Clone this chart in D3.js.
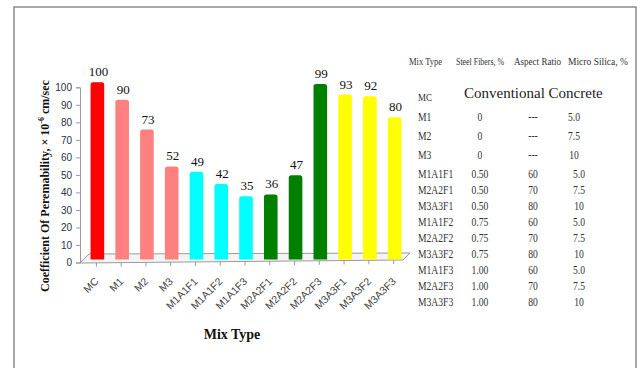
<!DOCTYPE html>
<html>
<head>
<meta charset="utf-8">
<script src="https://cdn.jsdelivr.net/npm/d3@7"></script>
<style>
  html, body { margin: 0; padding: 0; background: #fff; }
  svg { display: block; }
</style>
</head>
<body>
<svg id="chart" width="640" height="368"></svg>
<script>
// Coefficient of permeability per mix type
const categories = ["MC", "M1", "M2", "M3",
  "M1A1F1", "M1A1F2", "M1A1F3",
  "M2A2F1", "M2A2F2", "M2A2F3",
  "M3A3F1", "M3A3F2", "M3A3F3"];
const permeability = [100, 90, 73, 52, 49, 42, 35, 36, 47, 99, 93, 92, 80];
const groups = ["MC", "M", "M", "M", "A1", "A1", "A1", "A2", "A2", "A2", "A3", "A3", "A3"];
const groupColors = { MC: "#ff0000", M: "#ff8080", A1: "#00ffff", A2: "#007f00", A3: "#ffff00" };
const yTicks = [0, 10, 20, 30, 40, 50, 60, 70, 80, 90, 100];

// Mix design table
const tableHeaders = ["Mix Type", "Steel Fibers, %", "Aspect Ratio", "Micro Silica, %"];
const plainMixes = ["M1", "M2", "M3"];
const plainFibers = ["0", "0", "0"];
const plainRatios = ["---", "---", "---"];
const plainSilica = ["5.0", "7.5", "10"];
const fiberMixes = ["M1A1F1", "M2A2F1", "M3A3F1", "M1A1F2", "M2A2F2", "M3A3F2", "M1A1F3", "M2A2F3", "M3A3F3"];
const fiberContents = ["0.50", "0.50", "0.50", "0.75", "0.75", "0.75", "1.00", "1.00", "1.00"];
const fiberRatios = ["60", "70", "80", "60", "70", "80", "60", "70", "80"];
const fiberSilica = ["5.0", "7.5", "10", "5.0", "7.5", "10", "5.0", "7.5", "10"];

const svg = d3.select("#chart");
const serif = "'Liberation Serif', 'Times New Roman', serif";
const sans = "'Liberation Sans', Arial, sans-serif";

// outer frame
svg.append("rect")
  .attr("x", 14).attr("y", 7).attr("width", 622).attr("height", 420)
  .attr("fill", "none").attr("stroke", "#8a8a8a").attr("stroke-width", 1.5);

const x = d3.scaleBand().domain(categories).range([84, 406]).padding(0);
const y = d3.scaleLinear().domain([0, 100]).range([262.5, 87.3]);
const barW = x.bandwidth() * 0.55;
const depth = { dx: 1, dy: -5 };   // bars sit a little back from the front plane
const cx = c => x(c) + x.bandwidth() / 2;

// floor of the plot
svg.append("path")
  .attr("d", "M80,263 L403,260 L410,253 L89,254 Z")
  .attr("fill", "#f4f4f4").attr("stroke", "#9a9a9a").attr("stroke-width", 1);

// y axis
const yAxis = svg.append("g").attr("transform", "translate(80,0)")
  .call(d3.axisLeft(y).tickValues(yTicks).tickSize(4).tickPadding(4));
yAxis.select(".domain").attr("stroke", "#9a9a9a");
yAxis.selectAll(".tick line").attr("stroke", "#9a9a9a");
yAxis.selectAll(".tick text")
  .attr("font-family", sans).attr("font-size", 10).attr("fill", "#2b3340");

// x category ticks
svg.append("g").selectAll("line").data(categories).join("line")
  .attr("x1", c => cx(c)).attr("x2", c => cx(c))
  .attr("y1", c => 263 - 3 * (cx(c) - 80) / 323).attr("y2", c => 267 - 3 * (cx(c) - 80) / 323)
  .attr("stroke", "#9a9a9a");

// bars with rounded tops
function barPath(c, v) {
  const x0 = cx(c) - barW / 2 + depth.dx, x1 = x0 + barW;
  const top = y(v) + depth.dy, bottom = y(0) - 3, r = 2.5;
  return `M${x0},${bottom} L${x0},${top + r} Q${x0},${top} ${x0 + r},${top} L${x1 - r},${top} Q${x1},${top} ${x1},${top + r} L${x1},${bottom} Z`;
}
svg.append("g").selectAll("path").data(categories).join("path")
  .attr("d", (c, i) => barPath(c, permeability[i]))
  .attr("fill", (c, i) => groupColors[groups[i]]);

// value labels
svg.append("g").selectAll("text").data(categories).join("text")
  .attr("x", c => cx(c) + 2)
  .attr("y", (c, i) => y(permeability[i]) + depth.dy - 6)
  .attr("text-anchor", "middle")
  .attr("font-family", serif).attr("font-size", 13).attr("fill", "#111")
  .text((c, i) => permeability[i]);

// rotated category labels
svg.append("g").selectAll("text").data(categories).join("text")
  .attr("transform", c => `translate(${cx(c) + 3},${282}) rotate(-45)`)
  .attr("text-anchor", "end")
  .attr("font-family", sans).attr("font-size", 10.5).attr("fill", "#444")
  .text(c => c);

// axis titles
svg.append("text")
  .attr("x", 232).attr("y", 339).attr("text-anchor", "middle")
  .attr("font-family", serif).attr("font-size", 14).attr("font-weight", "bold").attr("fill", "#111")
  .text("Mix Type");

const yTitle = svg.append("text")
  .attr("transform", "translate(49,186) rotate(-90)")
  .attr("text-anchor", "middle")
  .attr("font-family", serif).attr("font-size", 12).attr("font-weight", "bold").attr("fill", "#111");
yTitle.append("tspan").text("Coefficient Of Peremability, × 10");
yTitle.append("tspan").attr("dy", -5).attr("font-size", 8).text("-6");
yTitle.append("tspan").attr("dy", 5).text(" cm/sec");

// mix design table
const tbl = svg.append("g").attr("font-family", serif).attr("fill", "#333");
const headerX = [409, 456, 514, 568];
const headerW = [33, 48, 47, 60];
tbl.selectAll("text.hdr").data(tableHeaders).join("text")
  .attr("class", "hdr")
  .attr("x", (d, i) => headerX[i]).attr("y", 65)
  .attr("font-size", 10)
  .attr("textLength", (d, i) => headerW[i]).attr("lengthAdjust", "spacingAndGlyphs")
  .text(d => d);

tbl.append("text").attr("x", 418).attr("y", 101)
  .attr("font-size", 11).attr("transform", "translate(418,0) scale(0.82,1) translate(-418,0)")
  .text("MC");
tbl.append("text").attr("x", 464).attr("y", 98)
  .attr("font-size", 15).attr("fill", "#222")
  .text("Conventional Concrete");

function drawRows(mixes, cols, yRange, silicaX) {
  const ry = d3.scalePoint().domain(mixes).range(yRange);
  const colX = [418, 480, 533, silicaX];
  const sq = (px, py) => `translate(${px},${py}) scale(0.8,1)`;
  mixes.forEach((m, i) => {
    tbl.append("text").attr("transform", sq(colX[0], ry(m)))
      .attr("font-size", 12).text(m);
    cols.forEach((col, j) => {
      tbl.append("text").attr("transform", sq(colX[j + 1], ry(m)))
        .attr("text-anchor", "middle").attr("font-size", 12).text(col[i]);
    });
  });
}
drawRows(plainMixes, [plainFibers, plainRatios, plainSilica], [120.7, 159.3], 574);
drawRows(fiberMixes, [fiberContents, fiberRatios, fiberSilica], [178.3, 306], 579);
</script>
</body>
</html>
